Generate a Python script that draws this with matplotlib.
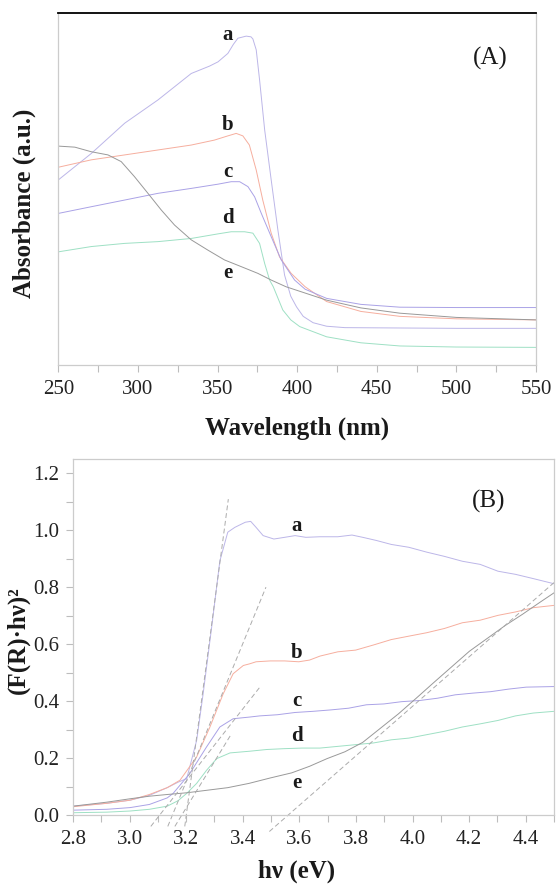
import matplotlib
matplotlib.use("Agg")
import matplotlib.pyplot as plt
from matplotlib.ticker import MultipleLocator, FormatStrFormatter

plt.rcParams['font.family'] = ['Liberation Serif', 'DejaVu Serif']

# ---------------- Panel A data: absorbance (a.u.) vs wavelength (nm) ----------------
wl_a = [250, 270.7, 291.7, 312.6, 333.5, 345, 350.3, 356.5, 360, 362.8, 368, 371, 372.2, 374.3, 376.4,
        379.6, 383.7, 387.9, 392.1, 396, 399.6, 403.8, 410, 418.5, 430, 464.5, 500, 550]
abs_a = [0.525, 0.600, 0.686, 0.752, 0.827, 0.848, 0.860, 0.884, 0.910, 0.927, 0.933, 0.931, 0.925, 0.894, 0.809,
         0.667, 0.525, 0.383, 0.255, 0.195, 0.165, 0.138, 0.120, 0.110, 0.106, 0.105, 0.104, 0.104]

wl_b = [250, 270.7, 291.7, 312.6, 333.5, 348, 356.5, 361.7, 365.9, 370, 374.3, 378.4, 383.7,
        388.9, 396.2, 405, 418.5, 440, 464.5, 500, 550]
abs_b = [0.561, 0.582, 0.596, 0.610, 0.624, 0.638, 0.650, 0.657, 0.650, 0.624, 0.553, 0.468, 0.374,
         0.307, 0.260, 0.222, 0.180, 0.152, 0.138, 0.131, 0.128]

wl_c = [250, 270.7, 291.7, 312.6, 333.5, 350.3, 358.6, 363.9, 369.1, 373.3, 377.5, 383.7, 390,
        398.4, 405, 418.5, 440, 464.5, 500, 550]
abs_c = [0.430, 0.449, 0.468, 0.487, 0.501, 0.513, 0.520, 0.520, 0.506, 0.477, 0.430, 0.364, 0.298,
         0.241, 0.215, 0.189, 0.172, 0.164, 0.163, 0.163]

wl_d = [250, 270.7, 291.7, 312.6, 333.5, 350.3, 358.6, 367, 372.2, 376.4, 379.6, 382.7, 385,
        391, 396, 401.6, 418.5, 440, 464.5, 500, 550]
abs_d = [0.321, 0.336, 0.345, 0.350, 0.359, 0.372, 0.378, 0.378, 0.374, 0.345, 0.288, 0.241, 0.222,
         0.156, 0.128, 0.109, 0.080, 0.063, 0.054, 0.051, 0.050]

wl_e = [250, 260.4, 270.7, 281.2, 289.5, 297.9, 306.3, 314.6, 323, 333.5, 343.9, 354.4, 364.9,
        375.3, 383.7, 393, 418.5, 440, 464.5, 500, 550]
abs_e = [0.621, 0.618, 0.605, 0.596, 0.577, 0.534, 0.487, 0.440, 0.397, 0.355, 0.326, 0.298, 0.279,
         0.260, 0.241, 0.222, 0.184, 0.162, 0.147, 0.135, 0.128]

# ---------------- Panel B data: (F(R)*hv)^2 vs photon energy (eV) ----------------
ev_a = [2.8, 2.919, 3.002, 3.07, 3.133, 3.171, 3.202, 3.237, 3.26, 3.29, 3.319, 3.347, 3.372, 3.409,
        3.428, 3.447, 3.472, 3.51, 3.548, 3.585, 3.623, 3.673, 3.736, 3.786, 3.824, 3.872, 3.925,
        3.987, 4.05, 4.113, 4.176, 4.239, 4.302, 4.364, 4.427, 4.5]
f_a = [0.031, 0.041, 0.052, 0.069, 0.096, 0.115, 0.128, 0.262, 0.426, 0.659, 0.892, 0.993, 1.010, 1.028,
       1.031, 1.010, 0.981, 0.969, 0.975, 0.981, 0.975, 0.977, 0.977, 0.983, 0.975, 0.964, 0.950,
       0.940, 0.923, 0.908, 0.891, 0.880, 0.856, 0.845, 0.830, 0.812]

ev_b = [2.8, 2.919, 3.002, 3.07, 3.133, 3.178, 3.237, 3.284, 3.331, 3.366, 3.402, 3.425, 3.447, 3.497,
        3.548, 3.598, 3.636, 3.673, 3.736, 3.799, 3.862, 3.925, 3.987, 4.05, 4.113, 4.176, 4.239,
        4.302, 4.364, 4.427, 4.5]
f_b = [0.029, 0.041, 0.052, 0.072, 0.096, 0.122, 0.204, 0.309, 0.426, 0.496, 0.525, 0.531, 0.538, 0.541,
       0.541, 0.538, 0.544, 0.558, 0.573, 0.579, 0.597, 0.616, 0.628, 0.640, 0.655, 0.675, 0.684,
       0.701, 0.713, 0.728, 0.736]

ev_c = [2.8, 2.919, 3.002, 3.07, 3.133, 3.154, 3.213, 3.272, 3.319, 3.366, 3.425, 3.46, 3.522, 3.585,
        3.648, 3.711, 3.774, 3.837, 3.899, 3.962, 4.025, 4.088, 4.151, 4.214, 4.276, 4.339, 4.402, 4.5]
f_c = [0.017, 0.020, 0.026, 0.037, 0.060, 0.076, 0.146, 0.239, 0.309, 0.338, 0.344, 0.348, 0.352, 0.360,
       0.364, 0.369, 0.375, 0.387, 0.390, 0.398, 0.402, 0.410, 0.422, 0.428, 0.433, 0.442, 0.449, 0.451]

ev_d = [2.8, 2.919, 3.002, 3.07, 3.133, 3.171, 3.202, 3.237, 3.272, 3.308, 3.355, 3.425, 3.485, 3.548,
        3.61, 3.673, 3.736, 3.799, 3.862, 3.925, 3.987, 4.05, 4.113, 4.176, 4.239, 4.302, 4.364, 4.427, 4.5]
f_d = [0.008, 0.010, 0.014, 0.020, 0.031, 0.050, 0.076, 0.111, 0.157, 0.198, 0.218, 0.224, 0.230, 0.233,
       0.235, 0.235, 0.241, 0.247, 0.253, 0.264, 0.270, 0.282, 0.294, 0.309, 0.320, 0.332, 0.348, 0.358, 0.364]

ev_e = [2.8, 2.919, 3.002, 3.07, 3.133, 3.202, 3.347, 3.422, 3.497, 3.573, 3.636, 3.698, 3.761, 3.824,
        3.887, 3.95, 4.013, 4.075, 4.138, 4.201, 4.264, 4.327, 4.389, 4.452, 4.5]
f_e = [0.031, 0.045, 0.057, 0.066, 0.072, 0.078, 0.096, 0.111, 0.130, 0.148, 0.171, 0.198, 0.222, 0.255,
       0.305, 0.355, 0.410, 0.465, 0.520, 0.575, 0.620, 0.665, 0.705, 0.748, 0.780]

# tangent (band-gap extrapolation) lines: start/end points
tan_x0 = [3.195, 3.135, 3.075, 3.160, 3.494]
tan_y0 = [-0.04, -0.04, -0.04, -0.04, -0.058]
tan_x1 = [3.349, 3.482, 3.462, 3.360, 4.500]
tan_y1 = [1.109, 0.800, 0.451, 0.285, 0.816]

labels = ['a', 'b', 'c', 'd', 'e']
labA_y = [0.936, 0.681, 0.548, 0.417, 0.261]
labB_y = [1.015, 0.570, 0.399, 0.276, 0.112]

colors = ['#bcb6e8', '#f6ae9e', '#aaa2e6', '#9ee0c4', '#999999']

W, H = 558, 884
fig = plt.figure(figsize=(W / 100, H / 100), dpi=100)

gray = '#cccccc'
tick_col = '#bdbdbd'
LW = 0.7

# ---------------- Panel A ----------------
axA = fig.add_axes([58.3 / W, 1 - 365 / H, (536 - 58.3) / W, (365 - 12.5) / H])
for wl, ab, col in zip([wl_a, wl_b, wl_c, wl_d, wl_e], [abs_a, abs_b, abs_c, abs_d, abs_e], colors):
    axA.plot(wl, ab, color=col, lw=LW)
axA.set_xlim(250, 550)
axA.set_ylim(0, 1)
axA.xaxis.set_major_locator(MultipleLocator(50))
axA.xaxis.set_minor_locator(MultipleLocator(25))
axA.set_yticks([])
axA.tick_params(axis='x', which='both', direction='out', length=5, width=0.8, color=tick_col,
                labelsize=15, pad=6, labelcolor='#222222')
for s in ['left', 'right', 'bottom']:
    axA.spines[s].set_color(gray)
    axA.spines[s].set_linewidth(0.9)
axA.spines['top'].set_color('black')
axA.spines['top'].set_linewidth(1.3)
for t in axA.xaxis.get_major_ticks():
    if abs(t.get_loc() - 300) < 1e-6:
        t.tick1line.set_color('black')
for lab, y in zip(labels, labA_y):
    axA.text(356.5, y, lab, fontsize=15, fontweight='bold', ha='center', va='center', color='#1a1a1a')
axA.text(521, 0.871, '(A)', fontsize=18, ha='center', va='center', color='#1a1a1a')
fig.text(297 / W, 1 - 428 / H, 'Wavelength (nm)', fontsize=18, fontweight='bold',
         ha='center', va='center', color='#1a1a1a')
fig.text(24 / W, 1 - 203 / H, 'Absorbance (a.u.)', fontsize=18, fontweight='bold', rotation=90,
         ha='center', va='center', color='#1a1a1a')

# ---------------- Panel B ----------------
axB = fig.add_axes([73 / W, 1 - 815 / H, (554 - 73) / W, (815 - 459) / H])
for ev, f, col in zip([ev_a, ev_b, ev_c, ev_d, ev_e], [f_a, f_b, f_c, f_d, f_e], colors):
    axB.plot(ev, f, color=col, lw=LW)
for x0, y0, x1, y1 in zip(tan_x0, tan_y0, tan_x1, tan_y1):
    axB.plot([x0, x1], [y0, y1], color='#ababab', lw=0.7, dashes=(5, 3), clip_on=False)
axB.set_xlim(2.8, 4.5)
axB.set_ylim(0, 1.25)
axB.xaxis.set_major_locator(MultipleLocator(0.2))
axB.xaxis.set_minor_locator(MultipleLocator(0.1))
axB.yaxis.set_major_locator(MultipleLocator(0.2))
axB.yaxis.set_minor_locator(MultipleLocator(0.1))
axB.xaxis.set_major_formatter(FormatStrFormatter('%.1f'))
axB.yaxis.set_major_formatter(FormatStrFormatter('%.1f'))
axB.tick_params(axis='both', which='both', direction='out', length=5, width=0.8, color=tick_col,
                labelsize=15, labelcolor='#222222')
axB.tick_params(axis='x', which='both', pad=6)
axB.tick_params(axis='y', which='both', pad=5)
for s in ['left', 'right', 'bottom', 'top']:
    axB.spines[s].set_color(gray)
    axB.spines[s].set_linewidth(0.9)
for lab, y in zip(labels, labB_y):
    axB.text(3.59, y, lab, fontsize=15, fontweight='bold', ha='center', va='center', color='#1a1a1a')
axB.text(4.27, 1.10, '(B)', fontsize=18, ha='center', va='center', color='#1a1a1a')
fig.text(297 / W, 1 - 871 / H, 'h\u03bd (eV)', fontsize=18, fontweight='bold',
         ha='center', va='center', color='#1a1a1a')
fig.text(18 / W, 1 - 640 / H, '(F(R)\u00b7h\u03bd)\u00b2', fontsize=18, fontweight='bold', rotation=90,
         ha='center', va='center', color='#1a1a1a')

fig.savefig('out.png', dpi=100)
